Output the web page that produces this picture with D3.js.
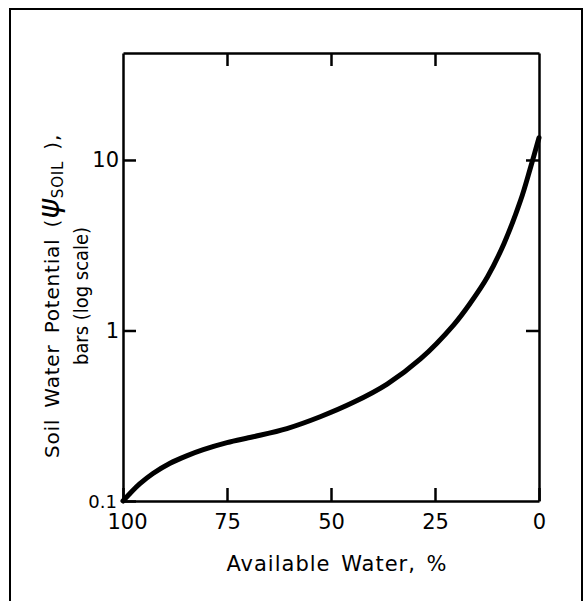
<!DOCTYPE html>
<html>
<head>
<meta charset="utf-8">
<script src="https://cdn.jsdelivr.net/npm/d3@7"></script>
<style>
    body { margin: 0; background: #fff; }
    svg { display: block; }
    .axis path, .axis line { stroke: #000; stroke-width: 2.5px; }
    .axis text { font-family: "DejaVu Sans", sans-serif; font-size: 21px; fill: #000; }
</style>
</head>
<body>
<svg id="chart"></svg>
<script>
/* values: available water (%) and soil water potential (bars) */
const availWater = [100, 98, 96, 92.8, 88.8, 84.7, 80.7, 75, 68.7, 60.6, 52.6, 44.6, 36.5, 28.5, 20.5, 16.5, 12.4, 8.4, 4.4, 2, 0];
const potential  = [0.1, 0.113, 0.126, 0.145, 0.166, 0.184, 0.2, 0.22, 0.238, 0.266, 0.312, 0.379, 0.485, 0.681, 1.08, 1.45, 2.06, 3.24, 5.82, 9.1, 13.5];

/* tick values */
const xTicks = [100, 75, 50, 25, 0];
const xInnerTicks = [75, 50, 25];
const yTicks = [10, 1, 0.1];
const yInnerTicks = [10, 1];

/* size and margin of the svg */
const width = 584;
const height = 601;
const margin = { left: 123, right: 45, top: 53, bottom: 100 };

const svg = d3.select('#chart')
    .attr('width', width)
    .attr('height', height);

/* outer frame of the figure, open at the bottom */
svg.append('path')
    .attr('d', `M10,${height + 5}V9H582V${height + 5}`)
    .attr('fill', 'none')
    .attr('stroke', '#000')
    .attr('stroke-width', 2);

/* scales */
const xScale = d3.scaleLinear()
    .domain([100, 0])
    .range([margin.left, width - margin.right]);
const yScale = d3.scaleLog()
    .domain([0.1, 42.4])
    .range([height - margin.bottom, margin.top]);

/* bottom axis with inward ticks and labels */
const xAxis = svg.append('g')
    .attr('class', 'axis')
    .attr('transform', `translate(0,${height - margin.bottom})`)
    .call(d3.axisBottom(xScale).tickValues(xTicks).tickSizeInner(-13).tickSizeOuter(0).tickPadding(13).tickFormat(d3.format('d')));
xAxis.selectAll('.tick text').filter(d => d === 100).attr('dx', 4);

/* top axis, ticks only */
svg.append('g')
    .attr('class', 'axis')
    .attr('transform', `translate(0,${margin.top})`)
    .call(d3.axisTop(xScale).tickValues(xInnerTicks).tickSizeInner(-13).tickSizeOuter(0).tickFormat(''));

/* left axis */
const yAxis = svg.append('g')
    .attr('class', 'axis')
    .attr('transform', `translate(${margin.left},0)`)
    .call(d3.axisLeft(yScale).tickValues(yTicks).tickSizeInner(-13).tickSizeOuter(0).tickPadding(4).tickFormat(d => d < 1 ? '0.1' : d3.format('d')(d)));
yAxis.selectAll('.tick text').filter(d => d < 1).style('font-size', '18px').attr('dy', '0.35em').attr('dx', -2);

/* right axis, ticks only */
svg.append('g')
    .attr('class', 'axis')
    .attr('transform', `translate(${width - margin.right},0)`)
    .call(d3.axisRight(yScale).tickValues(yInnerTicks).tickSizeInner(-13).tickSizeOuter(0).tickFormat(''));

/* the curve */
const line = d3.line()
    .x((d, i) => xScale(availWater[i]))
    .y(d => yScale(d))
    .curve(d3.curveCatmullRom.alpha(0.5));

svg.append('path')
    .attr('d', line(potential))
    .attr('fill', 'none')
    .attr('stroke', '#000')
    .attr('stroke-width', 5)
    .attr('stroke-linecap', 'round');

/* x axis title */
svg.append('text')
    .attr('x', 337)
    .attr('y', 571)
    .attr('text-anchor', 'middle')
    .style('font-family', '"DejaVu Sans", sans-serif')
    .style('font-size', '21px')
    .style('letter-spacing', '1px')
    .style('word-spacing', '3px')
    .text('Available Water, %');

/* y axis title, two lines */
const yLabel = svg.append('text')
    .attr('transform', 'translate(59,296) rotate(-90)')
    .attr('text-anchor', 'middle')
    .style('font-family', '"DejaVu Sans", sans-serif')
    .style('font-size', '20px')
    .style('letter-spacing', '0.8px')
    .style('word-spacing', '4px');
yLabel.append('tspan').text('Soil Water Potential (');
yLabel.append('tspan').style('font-size', '30px').style('font-style', 'italic').text('ψ');
yLabel.append('tspan').style('font-size', '15px').attr('dy', 4).text('SOIL');
yLabel.append('tspan').attr('dy', -4).text(' ),');

svg.append('text')
    .attr('transform', 'translate(88,296) rotate(-90)')
    .attr('text-anchor', 'middle')
    .attr('textLength', 138)
    .attr('lengthAdjust', 'spacingAndGlyphs')
    .style('font-family', '"DejaVu Sans", sans-serif')
    .style('font-size', '20px')
    .text('bars (log scale)');
</script>
</body>
</html>
